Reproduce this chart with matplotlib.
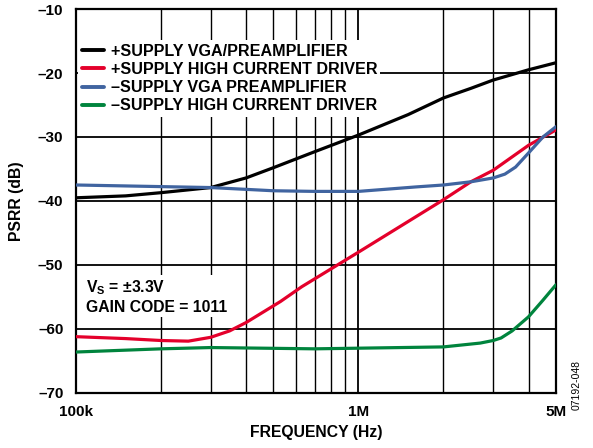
import numpy as np
import matplotlib
matplotlib.use('Agg')
import matplotlib.pyplot as plt
from matplotlib.ticker import FixedLocator, NullFormatter

plt.rcParams['font.family'] = ['Liberation Sans', 'DejaVu Sans']
plt.rcParams['font.weight'] = 'bold'
plt.rcParams['mathtext.fontset'] = 'custom'
plt.rcParams['mathtext.bf'] = 'Liberation Sans:bold'
plt.rcParams['mathtext.rm'] = 'Liberation Sans:bold'

# frequencies (Hz) and PSRR (dB)
f_blk = [1e5, 1.5e5, 2e5, 3e5, 4e5, 5e5, 7e5, 1e6, 1.5e6, 2e6, 2.5e6, 3e6, 4e6, 5e6]
psrr_blk = [-39.5, -39.2, -38.7, -37.9, -36.4, -34.8, -32.3, -29.7, -26.5, -23.9, -22.4, -21.1, -19.5, -18.4]

f_red = [1e5, 1.5e5, 2e5, 2.5e5, 3e5, 3.5e5, 4e5, 5.3e5, 6.3e5, 1e6, 2e6, 2.5e6, 3e6, 4e6, 5e6]
psrr_red = [-61.2, -61.5, -61.8, -61.9, -61.3, -60.3, -59.0, -55.7, -53.4, -48.0, -39.8, -37.0, -35.2, -31.3, -28.9]

f_blu = [1e5, 3e5, 5e5, 7e5, 1e6, 1.6e6, 2e6, 2.5e6, 3e6, 3.3e6, 3.6e6, 4e6, 4.5e6, 5e6]
psrr_blu = [-37.5, -37.9, -38.4, -38.5, -38.5, -37.8, -37.5, -37.0, -36.4, -35.8, -34.7, -32.5, -30.0, -28.4]

f_grn = [1e5, 2e5, 3e5, 7e5, 1e6, 2e6, 2.7e6, 3e6, 3.2e6, 3.5e6, 4e6, 4.5e6, 5e6]
psrr_grn = [-63.6, -63.1, -62.9, -63.1, -63.0, -62.8, -62.2, -61.8, -61.4, -60.3, -58.1, -55.5, -53.1]

labels = ['+SUPPLY VGA/PREAMPLIFIER', '+SUPPLY HIGH CURRENT DRIVER',
          '\u2013SUPPLY VGA PREAMPLIFIER', '\u2013SUPPLY HIGH CURRENT DRIVER']
colors = ['#000000', '#E4002B', '#4064A0', '#00843D']

yticks = [-70, -60, -50, -40, -30, -20, -10]
xticks = [1e5, 1e6, 5e6]
xticklabels = ['100k', '1M', '5M']
xminor = [2e5, 3e5, 4e5, 5e5, 6e5, 7e5, 8e5, 9e5, 2e6, 3e6, 4e6]

fig = plt.figure(figsize=(5.93, 4.48), dpi=100)
ax = fig.add_axes([0.128, 0.1228, 0.8094, 0.8571])

series = [(f_blk, psrr_blk), (f_red, psrr_red), (f_blu, psrr_blu), (f_grn, psrr_grn)]
for (f, p), lab, c in zip(series, labels, colors):
    ax.plot(f, p, color=c, lw=2.3, label=lab, solid_capstyle='round',
            solid_joinstyle='round', zorder=3)

ax.set_xscale('log')
ax.set_xlim(1e5, 5e6)
ax.set_ylim(-70, -10)
ax.set_xticks(xticks, xticklabels)
ax.xaxis.set_minor_locator(FixedLocator(xminor))
ax.xaxis.set_minor_formatter(NullFormatter())
ax.set_yticks(yticks, [str(v).replace('-', '\u2013') for v in yticks])
ax.tick_params(axis='both', which='both', length=0, labelsize=11)
ax.tick_params(axis='y', pad=9)
ax.tick_params(axis='x', pad=9)
ax.grid(True, which='major', color='black', lw=1.3)
ax.grid(True, which='minor', axis='x', color='black', lw=1.0)
ax.set_axisbelow(True)
for s in ax.spines.values():
    s.set_linewidth(1.6)

ax.set_xlabel('FREQUENCY (Hz)', fontsize=11.3, fontweight='bold', labelpad=4)
ax.set_ylabel('PSRR (dB)', fontsize=11.3, fontweight='bold', labelpad=10)

leg = ax.legend(loc='upper left', bbox_to_anchor=(0.005, 0.918), frameon=True,
                fancybox=False, edgecolor='none', facecolor='white', framealpha=1,
                fontsize=11.6, handlelength=1.4, handletextpad=0.4, labelspacing=0.2,
                borderpad=0.2, borderaxespad=0)
for t in leg.get_texts():
    t.set_fontweight('bold')
for h in leg.get_lines():
    h.set_linewidth(2.8)

ax.text(0.022, 0.298, 'V$_\\mathbf{S}$ = \u00b13.3V\nGAIN CODE = 1011', transform=ax.transAxes,
        fontsize=11.3, fontweight='bold', va='top', ha='left', linespacing=1.25,
        bbox=dict(facecolor='white', edgecolor='none', pad=1.5), zorder=4)

fig.text(0.972, 0.085, '07192-048', rotation=90, fontsize=7.5, fontweight='normal',
         ha='center', va='bottom')

fig.savefig('out.png', dpi=100)
